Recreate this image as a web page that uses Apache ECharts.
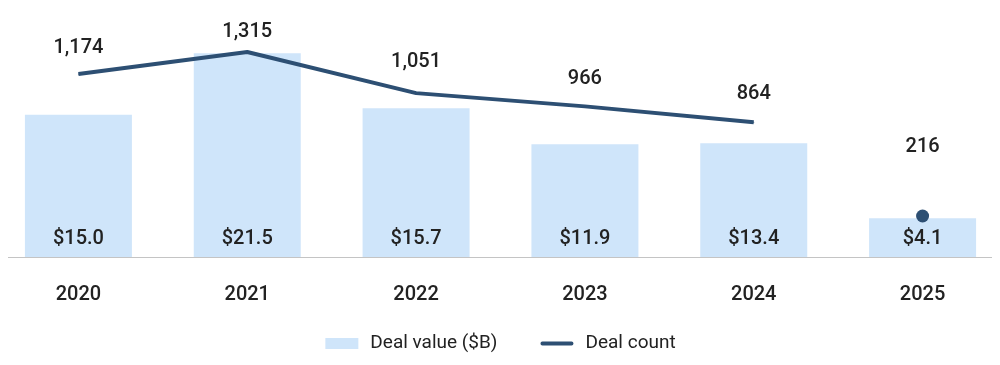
<!DOCTYPE html>
<html>
<head>
<meta charset="utf-8">
<script src="https://cdn.jsdelivr.net/npm/echarts@6/dist/echarts.min.js"></script>
<style>
html,body{margin:0;padding:0;background:#fff;overflow:hidden;width:1000px;height:365px;}
#chart{position:absolute;left:-6px;top:0;width:1013px;height:365px;}
</style>
</head>
<body>
<div id="chart"></div>
<script>
// ---- data ----
const years = ['2020', '2021', '2022', '2023', '2024', '2025'];
// bar heights as drawn in the picture ($B)
const dealValue = [15.0, 21.5, 15.7, 11.9, 12.0, 4.1];
// bar label texts
const dealValueLabels = ['$15.0', '$21.5', '$15.7', '$11.9', '$13.4', '$4.1'];
// line (2020-2024)
const dealCount = [1174, 1315, 1051, 966, 864, null];
const dealCountLabels = ['1,174', '1,315', '1,051', '966', '864', '216'];
// separate 2025 point (position as drawn)
const dealCount2025 = 263;

// ---- style ----
const labelLift = [15, 9, 21, 17, 17.5, 52];  // label offsets above points (px)
const TXT = '#222222';
const FONT = 'Roboto';
const NAVY = '#2d4f73';

const chart = echarts.init(document.getElementById('chart'), null, {renderer: 'canvas'});

const lineData = dealCount.map((v, i) => v === null ? null : ({
  value: v,
  label: {formatter: dealCountLabels[i], offset: [0, -labelLift[i]]}
}));

const countLabel = {
  show: true,
  position: 'top',
  distance: 0,
  color: TXT,
  fontSize: 20,
  fontWeight: 500,
  fontFamily: FONT,
  opacity: 1
};

const option = {
  backgroundColor: '#ffffff',
  animation: false,
  textStyle: {fontFamily: FONT},
  grid: {left: 0, right: 0, top: 20, bottom: 108, containLabel: false},
  xAxis: {
    type: 'category',
    data: years,
    boundaryGap: true,
    axisLine: {show: false},
    axisTick: {show: false},
    axisLabel: {color: TXT, fontSize: 20, fontWeight: 500, fontFamily: FONT, margin: 28}
  },
  yAxis: [
    {type: 'value', min: 0, max: 25, show: false, splitLine: {show: false}},
    {type: 'value', min: 0, max: 1520, show: false, splitLine: {show: false}}
  ],
  legend: {
    left: 'center',
    top: 329,
    itemWidth: 33,
    itemHeight: 11,
    itemGap: 43,
    textStyle: {color: TXT, fontSize: 19, fontFamily: FONT, padding: [0, 0, 0, 7]},
    data: [
      {name: 'Deal value ($B)', icon: 'rect'},
      {name: 'Deal count', icon: 'path://M2,0 H33 A2,2 0 0 1 33,4 H2 A2,2 0 0 1 2,0 Z'}
    ]
  },
  graphic: [{
    type: 'line',
    shape: {x1: 14, y1: 257.5, x2: 998, y2: 257.5},
    style: {stroke: '#c4c4c4', lineWidth: 1},
    z: 0
  }],
  series: [
    {
      name: 'Deal value ($B)',
      type: 'bar',
      yAxisIndex: 0,
      data: dealValue,
      barWidth: 107,
      itemStyle: {color: '#cfe5fa'},
      label: {
        show: true,
        position: 'insideBottom',
        distance: 8,
        color: TXT,
        fontSize: 20,
        fontWeight: 500,
        fontFamily: FONT,
        formatter: p => dealValueLabels[p.dataIndex]
      },
      z: 1
    },
    {
      name: 'Deal count',
      type: 'line',
      yAxisIndex: 1,
      data: lineData,
      symbol: 'circle',
      symbolSize: 1,
      showSymbol: true,
      lineStyle: {color: NAVY, width: 4},
      itemStyle: {color: NAVY},
      label: countLabel,
      z: 3
    },
    {
      name: 'Deal count 2025',
      type: 'scatter',
      yAxisIndex: 1,
      data: [{
        value: [years[5], dealCount2025],
        label: {formatter: dealCountLabels[5], offset: [0, -labelLift[5]]}
      }],
      symbol: 'circle',
      symbolSize: 13,
      itemStyle: {color: NAVY, opacity: 1},
      label: countLabel,
      z: 3
    }
  ]
};
chart.setOption(option);
</script>
</body>
</html>
